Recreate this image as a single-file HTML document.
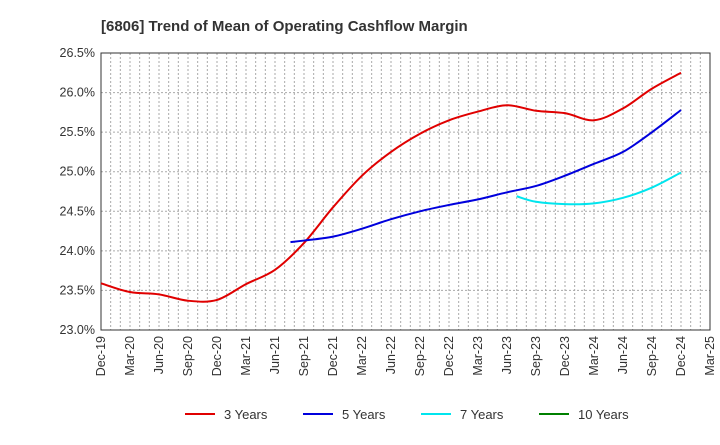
<!DOCTYPE html>
<html><head><meta charset="utf-8"><style>body{margin:0;background:#fff}svg{font-family:"Liberation Sans",Arial,sans-serif}</style></head>
<body>
<svg id="c" width="720" height="440">
<text x="101" y="31" font-size="15" font-weight="bold" fill="#333">[6806]  Trend of Mean of Operating Cashflow Margin</text>
<g id="grid"></g><g id="axes"></g><g id="series"></g><g id="legend"></g>
</svg>
<script>
const xLabels=["Dec-19","Mar-20","Jun-20","Sep-20","Dec-20","Mar-21","Jun-21","Sep-21","Dec-21","Mar-22","Jun-22","Sep-22","Dec-22","Mar-23","Jun-23","Sep-23","Dec-23","Mar-24","Jun-24","Sep-24","Dec-24","Mar-25"];
const yTicks=[23.0,23.5,24.0,24.5,25.0,25.5,26.0,26.5];
// month indices from Dec-19
const m3=[0,3,6,9,12,15,18,21,24,27,30,33,36,39,42,45,48,51,54,57,60];
const v3=[23.59,23.48,23.45,23.37,23.38,23.58,23.76,24.10,24.55,24.95,25.25,25.48,25.65,25.76,25.84,25.77,25.74,25.65,25.80,26.05,26.25];
const m5=[19.6,21,24,27,30,33,36,39,42,45,48,51,54,57,60];
const v5=[24.11,24.13,24.18,24.28,24.40,24.50,24.58,24.65,24.74,24.82,24.95,25.10,25.25,25.50,25.78];
const m7=[43,45,48,51,54,57,60];
const v7=[24.69,24.62,24.59,24.60,24.67,24.80,24.99];
const L=101,R=710,T=53,B=330,NM=63;
const X=m=>L+(R-L)*m/NM, Y=v=>B-(B-T)*(v-23)/3.5;
const ns="http://www.w3.org/2000/svg";
function mk(p,t,a){const e=document.createElementNS(ns,t);for(const k in a)e.setAttribute(k,a[k]);p.appendChild(e);return e;}
const g=document.getElementById('grid'),ax=document.getElementById('axes'),s=document.getElementById('series'),lg=document.getElementById('legend');
for(let m=1;m<NM;m++){const l=mk(g,'line',{x1:X(m),x2:X(m),y1:T,y2:B,stroke:'#aaa','stroke-dasharray':'2,2','stroke-width':1});

}
yTicks.forEach(v=>{const l=mk(g,'line',{x1:L,x2:R,y1:Y(v),y2:Y(v),stroke:'#aaa','stroke-dasharray':'2,2','stroke-width':1});


const t=mk(ax,'text',{x:L-6,y:Y(v)+4,'text-anchor':'end','font-size':12.5,fill:'#333'});t.textContent=v.toFixed(1)+'%';

});
xLabels.forEach((lab,i)=>{const x=X(i*3);const t=mk(ax,'text',{x:x+4,y:B+6,'text-anchor':'end','font-size':12.5,fill:'#333',transform:`rotate(-90 ${x+4} ${B+6})`});t.textContent=lab;

});
const fr=mk(ax,'rect',{x:L,y:T,width:R-L,height:B-T,fill:'none',stroke:'#333','stroke-width':1});


function path(ms,vs){const p=ms.map((m,i)=>[X(m),Y(vs[i])]);let d=`M${p[0][0]},${p[0][1]}`;
for(let i=0;i<p.length-1;i++){const p0=p[i-1]||p[i],p1=p[i],p2=p[i+1],p3=p[i+2]||p2;
d+=` C${p1[0]+(p2[0]-p0[0])/6},${p1[1]+(p2[1]-p0[1])/6} ${p2[0]-(p3[0]-p1[0])/6},${p2[1]-(p3[1]-p1[1])/6} ${p2[0]},${p2[1]}`;}return d;}
[[m3,v3,'#e00000','series-3-years'],[m5,v5,'#0000dd','series-5-years'],[m7,v7,'#00e5ee','series-7-years']].forEach(([m,v,c,n])=>{
const e=mk(s,'path',{d:path(m,v),fill:'none',stroke:c,'stroke-width':2});

});
[['3 Years','#e00000',185],['5 Years','#0000dd',303],['7 Years','#00e5ee',421],['10 Years','#008000',539]].forEach(([t,c,x])=>{
const l=mk(lg,'line',{x1:x,x2:x+30,y1:414,y2:414,stroke:c,'stroke-width':2});


const tx=mk(lg,'text',{x:x+39,y:419,'font-size':13,fill:'#333'});tx.textContent=t;

});
</script>
</body></html>
